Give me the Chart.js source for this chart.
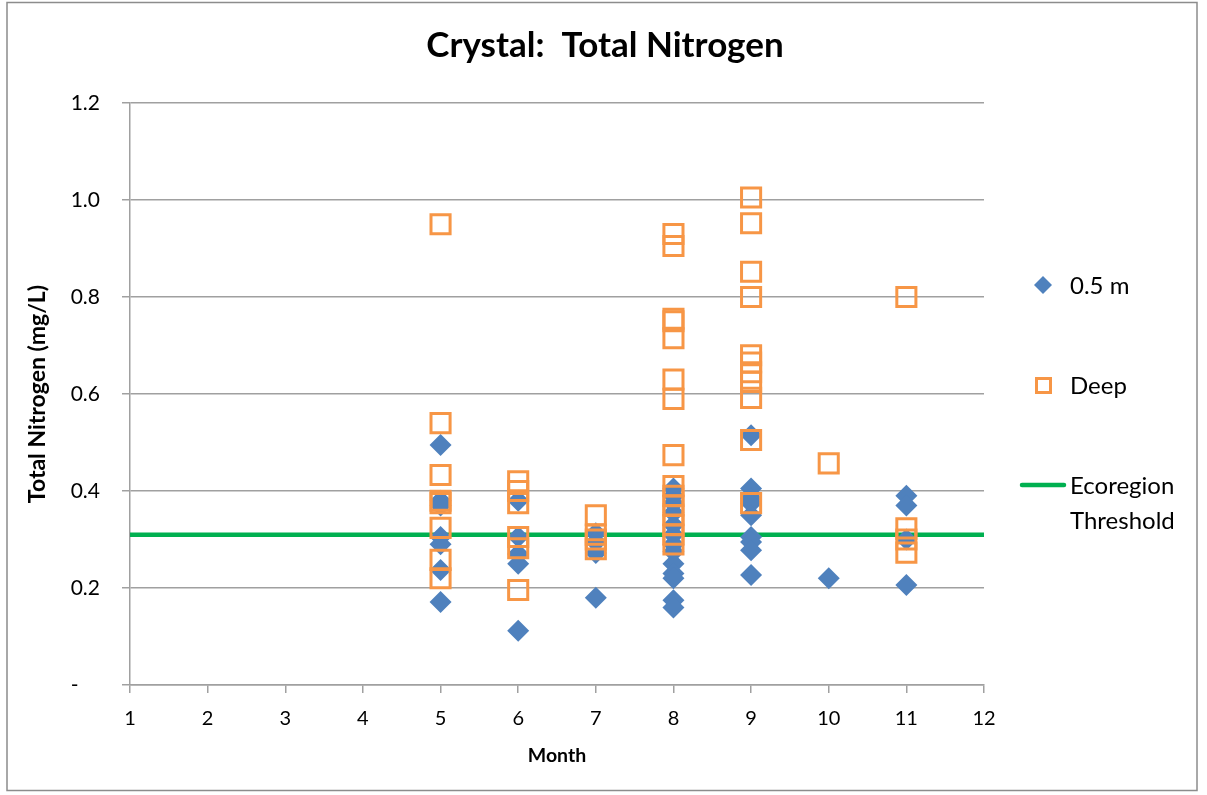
<!DOCTYPE html>
<html>
<head>
<meta charset="utf-8">
<script src="https://cdn.jsdelivr.net/npm/chart.js@4.4.1/dist/chart.umd.min.js"></script>
<style>
  body { margin: 0; background: #fff; }
  #wrap { width: 1207px; height: 795px; }
</style>
</head>
<body>
<div id="wrap"><canvas id="myChart" width="1207" height="795"></canvas></div>
<script>
// data block
const shallowMonths = [5,5,5,5,5,5,5, 6,6,6,6,6, 7,7,7,7, 8,8,8,8,8,8,8,8,8,8,8,8,8, 9,9,9,9,9,9,9,9,9, 10, 11,11,11,11];
const shallowTN = [0.495,0.38,0.37,0.305,0.29,0.237,0.171,
                   0.38,0.305,0.27,0.25,0.112,
                   0.313,0.295,0.272,0.18,
                   0.405,0.39,0.375,0.355,0.33,0.31,0.29,0.275,0.25,0.23,0.22,0.175,0.16,
                   0.515,0.405,0.385,0.375,0.35,0.305,0.295,0.278,0.227,
                   0.22,
                   0.39,0.37,0.30,0.206];

const deepMonths = [5,5,5,5,5,5,5,5, 6,6,6,6,6,6, 7,7,7,7, 8,8,8,8,8,8,8,8,8,8,8,8,8,8,8, 9,9,9,9,9,9,9,9,9,9,9, 10, 11,11,11,11];
const deepTN = [0.95,0.54,0.433,0.38,0.375,0.324,0.258,0.22,
                0.42,0.40,0.375,0.305,0.282,0.196,
                0.35,0.31,0.30,0.28,
                0.93,0.905,0.755,0.75,0.715,0.63,0.59,0.474,0.41,0.39,0.37,0.35,0.33,0.31,0.29,
                1.005,0.952,0.852,0.80,0.68,0.665,0.645,0.625,0.592,0.505,0.375,
                0.457,
                0.80,0.323,0.30,0.273];

const thresholdMonths = [1, 12];
const thresholdTN = [0.31, 0.31];

const monthTicks = [1,2,3,4,5,6,7,8,9,10,11,12];
const nitrogenTicks = [0, 0.2, 0.4, 0.6, 0.8, 1.0, 1.2];

const chartTitle = 'Crystal:  Total Nitrogen';

function pairs(xs, ys) {
    return xs.map((x, i) => ({ x: x, y: ys[i] }));
}

const FONT = 'Lato';

// outer frame, title over the whole canvas, and the legend on the right
const framePlugin = {
    id: 'frame',
    beforeDraw(chart) {
        const c = chart.ctx;
        c.save();
        c.fillStyle = '#fff';
        c.fillRect(0, 0, chart.width, chart.height);
        c.strokeStyle = '#8c8c8c';
        c.lineWidth = 1.5;
        c.strokeRect(7, 2.5, 1190, 788);
        c.restore();
    },
    afterDraw(chart) {
        const c = chart.ctx;
        const ds = chart.data.datasets;
        c.save();
        c.fillStyle = '#000';
        c.textBaseline = 'middle';

        c.textAlign = 'center';
        c.font = 'bold 35px ' + FONT;
        c.fillText(chartTitle, 605, 46);

        c.textAlign = 'left';
        c.font = '24px ' + FONT;

        // 0.5 m
        c.fillStyle = ds[0].backgroundColor;
        c.beginPath();
        c.moveTo(1043, 276); c.lineTo(1052, 285); c.lineTo(1043, 294); c.lineTo(1034, 285);
        c.closePath(); c.fill();
        c.fillStyle = '#000';
        c.fillText(ds[0].label, 1070, 286);

        // Deep
        c.strokeStyle = ds[1].borderColor;
        c.lineWidth = 3;
        c.strokeRect(1036.5, 378.5, 14, 14);
        c.fillText(ds[1].label, 1070, 386);

        // threshold
        c.strokeStyle = ds[2].borderColor;
        c.lineWidth = 4.5;
        c.lineCap = 'round';
        c.beginPath(); c.moveTo(1022, 485); c.lineTo(1064, 485); c.stroke();
        c.fillText('Ecoregion', 1070, 486);
        c.fillText('Threshold', 1070, 521);
        c.restore();
    }
};

const ctx = document.getElementById('myChart').getContext('2d');
const myChart = new Chart(ctx, {
    type: 'scatter',
    data: {
        datasets: [{
            label: '0.5 m',
            data: pairs(shallowMonths, shallowTN),
            backgroundColor: '#4F81BD',
            borderColor: '#4F81BD',
            borderWidth: 0,
            pointStyle: 'rectRot',
            pointRadius: 11,
            order: 1
        }, {
            label: 'Deep',
            data: pairs(deepMonths, deepTN),
            backgroundColor: 'rgba(0,0,0,0)',
            borderColor: '#F79646',
            borderWidth: 3,
            pointStyle: 'rect',
            pointRadius: 13.5,
            order: 0
        }, {
            label: 'Ecoregion Threshold',
            type: 'line',
            data: pairs(thresholdMonths, thresholdTN),
            borderColor: '#00B050',
            borderWidth: 4.5,
            pointRadius: 0,
            fill: false,
            order: 2
        }]
    },
    options: {
        responsive: false,
        animation: false,
        layout: { padding: { left: 10, right: 223, top: 103, bottom: 0 } },
        plugins: {
            legend: { display: false },
            tooltip: { enabled: false },
            title: { display: false }
        },
        scales: {
            x: {
                type: 'linear',
                min: 1,
                max: 12,
                afterBuildTicks: (scale) => { scale.ticks = monthTicks.map(v => ({ value: v })); },
                afterFit: (scale) => { scale.height = 110; },
                grid: { drawOnChartArea: false, drawTicks: true, tickLength: 8, color: '#a0a0a0', lineWidth: 1.5 },
                border: { color: '#a0a0a0', width: 1.5 },
                ticks: { color: '#000', font: { family: FONT, size: 20 }, padding: 14 },
                title: {
                    display: true,
                    text: 'Month',
                    color: '#000',
                    font: { family: FONT, size: 19.5, weight: 'bold' },
                    padding: { top: 0, bottom: 28 }
                }
            },
            y: {
                min: 0,
                max: 1.2,
                afterBuildTicks: (scale) => { scale.ticks = nitrogenTicks.map(v => ({ value: v })); },
                afterFit: (scale) => { scale.width = 120; },
                grid: { drawTicks: true, tickLength: 8, color: '#a0a0a0', lineWidth: 1.5 },
                border: { color: '#a0a0a0', width: 1.5 },
                ticks: {
                    color: '#000',
                    font: { family: FONT, size: 21 },
                    padding: 22,
                    callback: (v) => v === 0 ? '-    ' : v.toFixed(1)
                },
                title: {
                    display: true,
                    text: 'Total Nitrogen (mg/L)',
                    color: '#000',
                    font: { family: FONT, size: 23, weight: 'bold' },
                    padding: { top: 14, bottom: 0 }
                }
            }
        }
    },
    plugins: [framePlugin]
});
</script>
</body>
</html>
